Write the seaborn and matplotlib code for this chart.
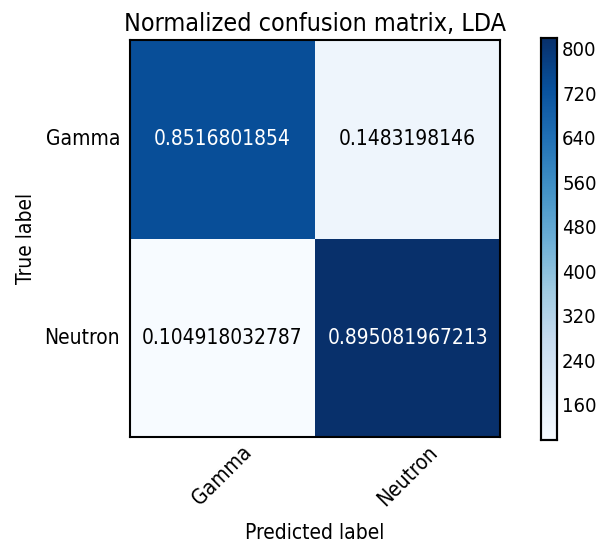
import numpy as np
import pandas as pd
import seaborn as sns
import matplotlib
matplotlib.use("Agg")
import matplotlib.pyplot as plt
from matplotlib.ticker import MultipleLocator

classes = ["Gamma", "Neutron"]
counts_gamma = [735, 128]
counts_neutron = [96, 819]
norm_labels_gamma = ["0.8516801854", "0.1483198146"]
norm_labels_neutron = ["0.104918032787", "0.895081967213"]
norm_gamma = [0.8516801854, 0.1483198146]
norm_neutron = [0.104918032787, 0.895081967213]

sns.set_style("white")
plt.rcParams['font.family'] = ['DejaVu Sans']
plt.rcParams['font.stretch'] = 'condensed'
plt.rcParams['text.color'] = 'black'
plt.rcParams['axes.labelcolor'] = 'black'
plt.rcParams['xtick.color'] = 'black'
plt.rcParams['ytick.color'] = 'black'

counts = pd.DataFrame([counts_gamma, counts_neutron], index=classes, columns=classes)
labels = np.array([norm_labels_gamma, norm_labels_neutron])
normv = np.array([norm_gamma, norm_neutron])

fig = plt.figure(figsize=(6.07, 5.44), dpi=100)
ax = fig.add_axes([0.214, 0.197, 0.61, 0.729])
cax = fig.add_axes([0.891, 0.191, 0.027, 0.739])

sns.heatmap(counts, ax=ax, cbar_ax=cax, cmap="Blues", annot=False,
            linewidths=0, square=False)

thresh = normv.max() / 2.0
for i in range(2):
    for j in range(2):
        ax.text(j + 0.5, i + 0.5, labels[i, j], ha="center", va="center",
                fontsize=15, color="white" if normv[i, j] > thresh else "black")

ax.set_title("Normalized confusion matrix, LDA", fontsize=18, pad=7)
ax.set_xlabel("Predicted label", fontsize=15, labelpad=9)
ax.set_ylabel("True label", fontsize=15, labelpad=6)
ax.set_xticks([0.5, 1.5])
ax.set_yticks([0.5, 1.5])
ax.set_xticklabels(classes, rotation=45, fontsize=15)
ax.set_yticklabels(classes, rotation=0, fontsize=15)
ax.tick_params(axis="both", direction="in", length=5, width=0.8,
               top=True, right=True, bottom=True, left=True)
ax.tick_params(axis="y", pad=7)
ax.tick_params(axis="x", pad=4)
ax.tick_params(axis="both", which="major", color="#555555", labelcolor="black")
for s in ax.spines.values():
    s.set_visible(True)
    s.set_color("black")
    s.set_linewidth(1.5)

cax.yaxis.set_major_locator(MultipleLocator(80))
cax.tick_params(direction="in", length=5, labelsize=14.5, left=False, right=True,
                color="#333333", labelcolor="black")
for s in cax.spines.values():
    s.set_visible(True)
    s.set_color("black")
    s.set_linewidth(1.5)
cax.set_frame_on(True)

fig.savefig("out.png", dpi=100)
